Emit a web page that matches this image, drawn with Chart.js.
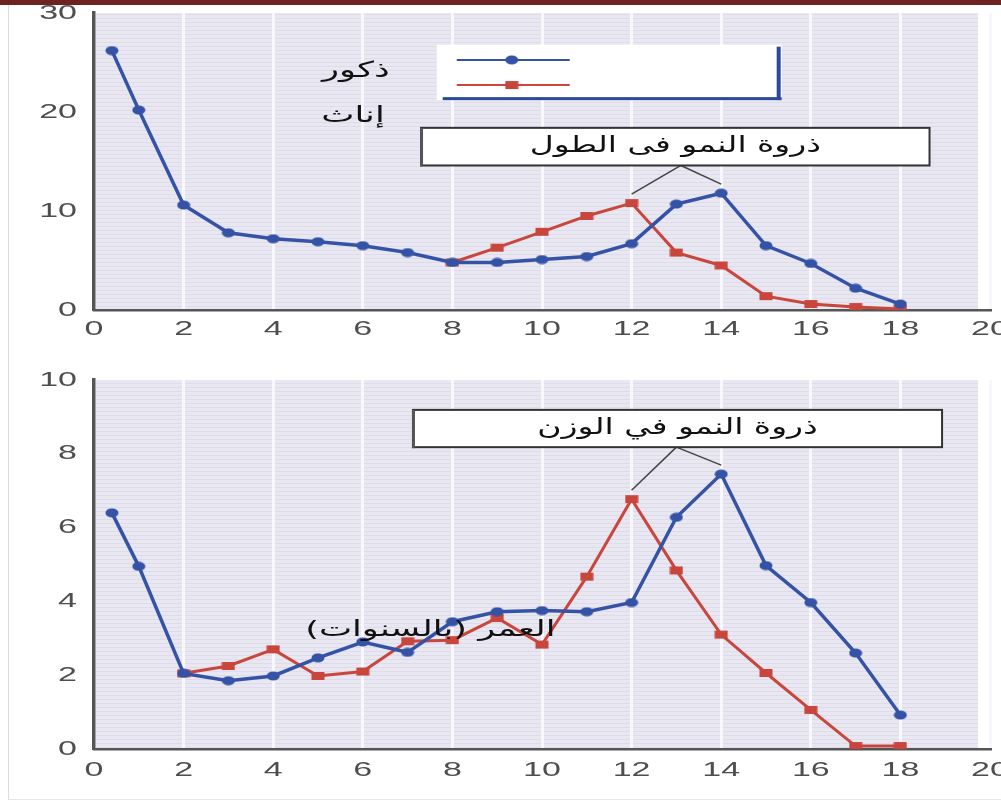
<!DOCTYPE html>
<html lang="ar">
<head>
<meta charset="utf-8">
<script src="https://cdn.jsdelivr.net/npm/chart.js@4.4.1/dist/chart.umd.min.js"></script>
<style>
body{margin:0;background:#fff;width:1001px;height:805px;overflow:hidden;position:relative}
#bar{position:absolute;left:0;top:0;width:1001px;height:5px;background:#6e2222}
#frame{position:absolute;left:8px;top:5px;width:1100px;height:794px;border-left:1px solid #dcdcdc;border-bottom:1px solid #e6e6e6}
.box{position:absolute;left:0;width:1001px}
#topBox{top:0;height:345px}
#bottomBox{top:345px;height:460px}
</style>
</head>
<body>
<div id="frame"></div>
<div id="bar"></div>
<div class="box" id="topBox"><canvas id="heightChart"></canvas></div>
<div class="box" id="bottomBox"><canvas id="weightChart"></canvas></div>
<script>
// العمر بالسنوات
const ages = [0.4, 1, 2, 3, 4, 5, 6, 7, 8, 9, 10, 11, 12, 13, 14, 15, 16, 17, 18];
// معدل النمو في الطول
const maleHeight = [26.2, 20.2, 10.6, 7.8, 7.2, 6.9, 6.5, 5.8, 4.8, 4.8, 5.1, 5.4, 6.7, 10.7, 11.8, 6.5, 4.7, 2.2, 0.6];
const femaleHeight = [null, null, null, null, null, null, null, null, 4.8, 6.3, 7.9, 9.5, 10.8, 5.8, 4.5, 1.4, 0.6, 0.3, 0.1];
// معدل النمو في الوزن
const maleWeight = [6.4, 4.95, 2.05, 1.85, 1.98, 2.47, 2.9, 2.62, 3.45, 3.72, 3.75, 3.72, 3.97, 6.28, 7.45, 4.97, 3.97, 2.6, 0.92];
const femaleWeight = [null, null, 2.05, 2.25, 2.7, 1.98, 2.1, 2.92, 2.95, 3.55, 2.83, 4.67, 6.77, 4.84, 3.1, 2.06, 1.06, 0.08, 0.08];
const xTicks = [0, 2, 4, 6, 8, 10, 12, 14, 16, 18, 20];
const seriesNames = ['ذكور', 'إناث'];
const xTitle = 'العمر (بالسنوات)';
const peakHeightText = 'ذروة النمو فى الطول';
const peakWeightText = 'ذروة النمو في الوزن';

const BLUE = '#3553a6';
const RED = '#c8463c';
const FONT = '"DejaVu Sans", sans-serif';
const NUMFONT = '20px "Liberation Sans", Arial, sans-serif';

function markerImg(kind, color){
    const c = document.createElement('canvas');
    c.width = 14; c.height = 10;
    const g = c.getContext('2d');
    g.fillStyle = color;
    if (kind === 'ellipse') {
        g.beginPath();
        g.ellipse(7, 5, 6.5, 4.5, 0, 0, Math.PI * 2);
        g.fill();
    } else {
        g.fillRect(0.5, 1, 13, 8);
    }
    return c;
}
const blueDot = markerImg('ellipse', BLUE);
const redSq = markerImg('rect', RED);

function stripes(){
    const c = document.createElement('canvas');
    c.width = 4; c.height = 4;
    const g = c.getContext('2d');
    g.fillStyle = '#e9e7f1';
    g.fillRect(0, 0, 4, 4);
    g.fillStyle = '#dfdce9';
    g.fillRect(0, 2, 4, 1);
    return c;
}
const stripeTile = stripes();

// the scan is stretched sideways, so text is drawn wide
function wideText(ctx, text, x, y, sx, align){
    ctx.save();
    ctx.translate(x, y);
    ctx.scale(sx, 1);
    ctx.textAlign = align;
    ctx.fillText(text, 0, 0);
    ctx.restore();
}

const plotBg = {
    id: 'plotBg',
    beforeDraw: chart => {
        const { ctx, chartArea: a } = chart;
        ctx.save();
        ctx.fillStyle = ctx.createPattern(stripeTile, 'repeat');
        ctx.fillRect(a.left, a.top, a.right - 12 - a.left, a.bottom - a.top);
        ctx.restore();
    }
};

const tickText = {
    id: 'tickText',
    afterDraw: (chart, args, opts) => {
        const { ctx, chartArea: a, scales: { x, y } } = chart;
        ctx.save();
        ctx.font = NUMFONT;
        ctx.fillStyle = '#4e4e4e';
        ctx.textBaseline = 'middle';
        x.ticks.forEach(t => wideText(ctx, t.label, x.getPixelForValue(t.value), a.bottom + opts.xGap, 1.7, 'center'));
        y.ticks.forEach(t => wideText(ctx, t.label, a.left - 17, y.getPixelForValue(t.value), 1.7, 'right'));
        ctx.restore();
    }
};

// legend box, side labels, peak boxes and axis title
const notes = {
    id: 'notes',
    afterDatasetsDraw: (chart, args, opts) => {
        const { ctx, scales: { x, y } } = chart;
        const px = v => x.getPixelForValue(v);
        const py = v => y.getPixelForValue(v);
        ctx.save();
        ctx.font = '22px ' + FONT;
        ctx.direction = 'rtl';
        ctx.textBaseline = 'middle';

        if (opts.legend) {
            const L = opts.legend;
            const l = px(L.x0), r = px(L.x1), t = py(L.y0), b = py(L.y1);
            ctx.fillStyle = '#ffffff';
            ctx.fillRect(l, t, r - l, b - t);
            ctx.fillStyle = '#2d4a9a';
            ctx.fillRect(l + 6, b - 3, r - l - 6, 3);
            ctx.fillRect(r - 5, t + 2, 4, b - t - 2);
            const rows = [[BLUE, blueDot, 0.29], [RED, redSq, 0.77]];
            rows.forEach(([col, img, f]) => {
                const yy = t + (b - t - 3) * f;
                ctx.strokeStyle = col;
                ctx.lineWidth = 2;
                ctx.beginPath();
                ctx.moveTo(l + 20, yy);
                ctx.lineTo(l + 133, yy);
                ctx.stroke();
                ctx.drawImage(img, l + 68, yy - 5);
            });
            ctx.fillStyle = '#111';
            wideText(ctx, seriesNames[0], px(L.labelX), t + 27, 1.6, 'right');
            wideText(ctx, seriesNames[1], px(L.labelX) - 5, t + 72, 1.6, 'right');
        }

        if (opts.peak) {
            const P = opts.peak;
            const l = px(P.x0), r = px(P.x1), t = py(P.y0), b = py(P.y1);
            const ax = px(P.apex);
            ctx.strokeStyle = '#444';
            ctx.lineWidth = 1.5;
            P.targets.forEach(([tx, ty]) => {
                ctx.beginPath();
                ctx.moveTo(ax, b);
                ctx.lineTo(px(tx), py(ty) - 9);
                ctx.stroke();
            });
            ctx.fillStyle = '#ffffff';
            ctx.fillRect(l, t, r - l, b - t);
            ctx.strokeStyle = '#333';
            ctx.lineWidth = 2;
            ctx.strokeRect(l, t, r - l, b - t);
            ctx.fillStyle = '#555';
            ctx.fillRect(l - 1, t, 3, b - t + 1);
            ctx.fillStyle = '#111';
            wideText(ctx, P.text, (l + r) / 2, (t + b) / 2, 1.5, 'center');
        }

        if (opts.title) {
            ctx.fillStyle = '#111';
            wideText(ctx, xTitle, px(opts.title.x), py(opts.title.y), 1.6, 'right');
        }
        ctx.restore();
    }
};

function peakOf(arr){
    let best = -1;
    arr.forEach((v, i) => {
        if (v !== null && ages[i] > 8 && (best < 0 || v > arr[best])) best = i;
    });
    return [ages[best], arr[best]];
}

function makeChart(id, male, female, yMax, yStep, sizes, notesOpts){
    const toXY = arr => ages.map((a, i) => ({ x: a, y: arr[i] }));
    return new Chart(document.getElementById(id), {
        type: 'line',
        data: {
            datasets: [{
                label: seriesNames[0],
                data: toXY(male),
                borderColor: BLUE,
                borderWidth: 3.5,
                pointStyle: blueDot,
                tension: 0
            }, {
                label: seriesNames[1],
                data: toXY(female),
                borderColor: RED,
                borderWidth: 3,
                pointStyle: redSq,
                tension: 0
            }]
        },
        options: {
            responsive: true,
            maintainAspectRatio: false,
            animation: false,
            events: [],
            layout: { padding: { top: sizes.top, right: 11, left: 0, bottom: 0 } },
            plugins: {
                legend: { display: false },
                tooltip: { enabled: false },
                notes: notesOpts,
                tickText: { xGap: sizes.xGap }
            },
            scales: {
                x: {
                    type: 'linear',
                    min: 0, max: 20,
                    afterBuildTicks: s => { s.ticks = xTicks.map(v => ({ value: v })); },
                    afterFit: s => { s.height = sizes.xh; s.paddingLeft = 0; s.paddingRight = 0; },
                    grid: { color: '#f8f7fb', lineWidth: 3, drawTicks: false },
                    border: { color: '#555', width: 2.5 },
                    ticks: { display: false, autoSkip: false }
                },
                y: {
                    min: 0, max: yMax,
                    ticks: { display: false, stepSize: yStep },
                    afterFit: s => { s.width = 94; s.paddingTop = 0; s.paddingBottom = 0; },
                    grid: { display: false, drawTicks: false },
                    border: { color: '#555', width: 3.5 }
                }
            }
        },
        plugins: [plotBg, notes, tickText]
    });
}

makeChart('heightChart', maleHeight, femaleHeight, 30, 10,
    { top: 13, xh: 35, xGap: 19 },
    {
        legend: { x0: 7.65, x1: 15.35, y0: 26.8, y1: 21.2, labelX: 6.6 },
        peak: { x0: 7.3, x1: 18.65, y0: 18.4, y1: 14.6, apex: 13.1, text: peakHeightText,
                targets: [peakOf(femaleHeight), peakOf(maleHeight)] }
    });

makeChart('weightChart', maleWeight, femaleWeight, 10, 2,
    { top: 35, xh: 56, xGap: 21 },
    {
        peak: { x0: 7.12, x1: 18.93, y0: 9.19, y1: 8.18, apex: 13.0, text: peakWeightText,
                targets: [peakOf(femaleWeight), peakOf(maleWeight)] },
        title: { x: 10.3, y: 3.22 }
    });
</script>
</body>
</html>
